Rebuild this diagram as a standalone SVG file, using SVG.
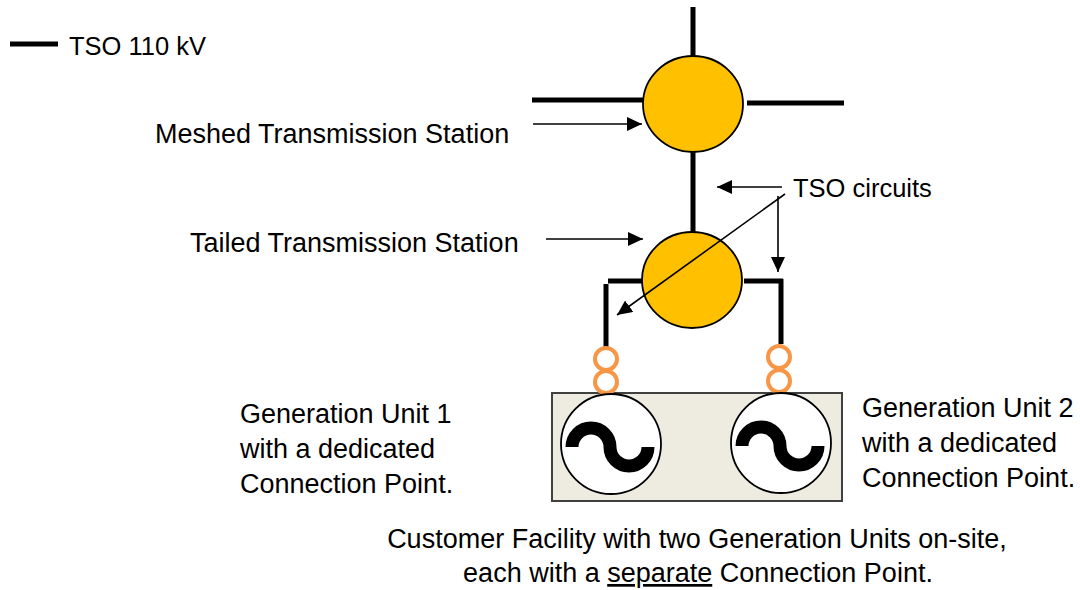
<svg xmlns="http://www.w3.org/2000/svg" width="1080" height="590" viewBox="0 0 1080 590">
  <style>
    .t { font-family: "Liberation Sans", Arial, sans-serif; font-size: 27px; fill: #000; }
    .s { font-size: 25.5px; }
    .bus { stroke: #000; stroke-width: 5; fill: none; }
    .thin { stroke: #000; stroke-width: 1.6; fill: none; }
    .stn { fill: #FFC000; stroke: #000; stroke-width: 1.8; }
    .coil { fill: none; stroke: #F79646; stroke-width: 4; }
    .gen { fill: #FFFFFF; stroke: #000; stroke-width: 1.8; }
    .wave { fill: none; stroke: #000; stroke-width: 13; stroke-linecap: butt; }
  </style>
  <defs>
    <marker id="ah" markerUnits="userSpaceOnUse" markerWidth="16" markerHeight="14" refX="15" refY="7" orient="auto">
      <path d="M0,0 L15,7 L0,14 Z" fill="#000"/>
    </marker>
  </defs>
  <rect width="1080" height="590" fill="#fff"/>

  <g id="legend">
    <line class="bus" x1="10" y1="44" x2="58" y2="44"/>
    <text class="t s" x="69" y="55">TSO 110 kV</text>
  </g>

  <g id="lines">
    <line class="bus" x1="693" y1="7" x2="693" y2="57"/>
    <line class="bus" x1="532" y1="100" x2="647" y2="100"/>
    <line class="bus" x1="747" y1="103" x2="844" y2="103"/>
    <line class="bus" x1="693" y1="152" x2="693" y2="232"/>
    <line class="bus" x1="608" y1="281" x2="642" y2="281"/>
    <line class="bus" x1="606" y1="284" x2="606" y2="347"/>
    <line class="bus" x1="744" y1="281" x2="783" y2="281"/>
    <line class="bus" x1="781" y1="279" x2="781" y2="344"/>
  </g>

  <g id="meshed-station">
    <ellipse class="stn" cx="693" cy="104" rx="50" ry="48"/>
  </g>
  <g id="tailed-station">
    <ellipse class="stn" cx="692" cy="280" rx="50" ry="48"/>
  </g>

  <g id="facility">
    <rect x="552" y="393" width="290" height="108" fill="#EEECE1" stroke="#404040" stroke-width="2"/>
  </g>

  <g id="coil1">
    <circle class="coil" cx="606" cy="359" r="11"/>
    <circle class="coil" cx="606" cy="382" r="11"/>
  </g>
  <g id="coil2">
    <circle class="coil" cx="779" cy="357" r="11"/>
    <circle class="coil" cx="779" cy="381" r="11"/>
  </g>

  <g id="gen1">
    <circle class="gen" cx="611" cy="444" r="50"/>
    <path class="wave" d="M572,447 A19,19 0 0 1 610,447 A19,19 0 0 0 648,447"/>
  </g>
  <g id="gen2">
    <circle class="gen" cx="781" cy="443" r="50"/>
    <path class="wave" d="M742,446 A19,19 0 0 1 780,446 A19,19 0 0 0 818,446"/>
  </g>

  <g id="connectors">
    <line class="thin" x1="533" y1="124" x2="642" y2="124" marker-end="url(#ah)"/>
    <line class="thin" x1="546" y1="239" x2="643" y2="239" marker-end="url(#ah)"/>
    <line class="thin" x1="782" y1="187" x2="717" y2="187" marker-end="url(#ah)"/>
    <line class="thin" x1="785" y1="194" x2="617" y2="315" marker-end="url(#ah)"/>
    <line class="thin" x1="778" y1="196" x2="778" y2="272" marker-end="url(#ah)"/>
  </g>

  <g id="labels">
    <text class="t" x="155" y="143">Meshed Transmission Station</text>
    <text class="t" x="190" y="252">Tailed Transmission Station</text>
    <text class="t s" x="793" y="197">TSO circuits</text>
    <text class="t" x="240" y="423">Generation Unit 1</text>
    <text class="t" x="240" y="458">with a dedicated</text>
    <text class="t" x="240" y="493">Connection Point.</text>
    <text class="t" x="862" y="417">Generation Unit 2</text>
    <text class="t" x="862" y="452">with a dedicated</text>
    <text class="t" x="862" y="487">Connection Point.</text>
    <text class="t" x="697" y="548" text-anchor="middle">Customer Facility with two Generation Units on-site,</text>
    <text class="t" x="698" y="582" text-anchor="middle">each with a <tspan text-decoration="underline">separate</tspan> Connection Point.</text>
  </g>
</svg>
